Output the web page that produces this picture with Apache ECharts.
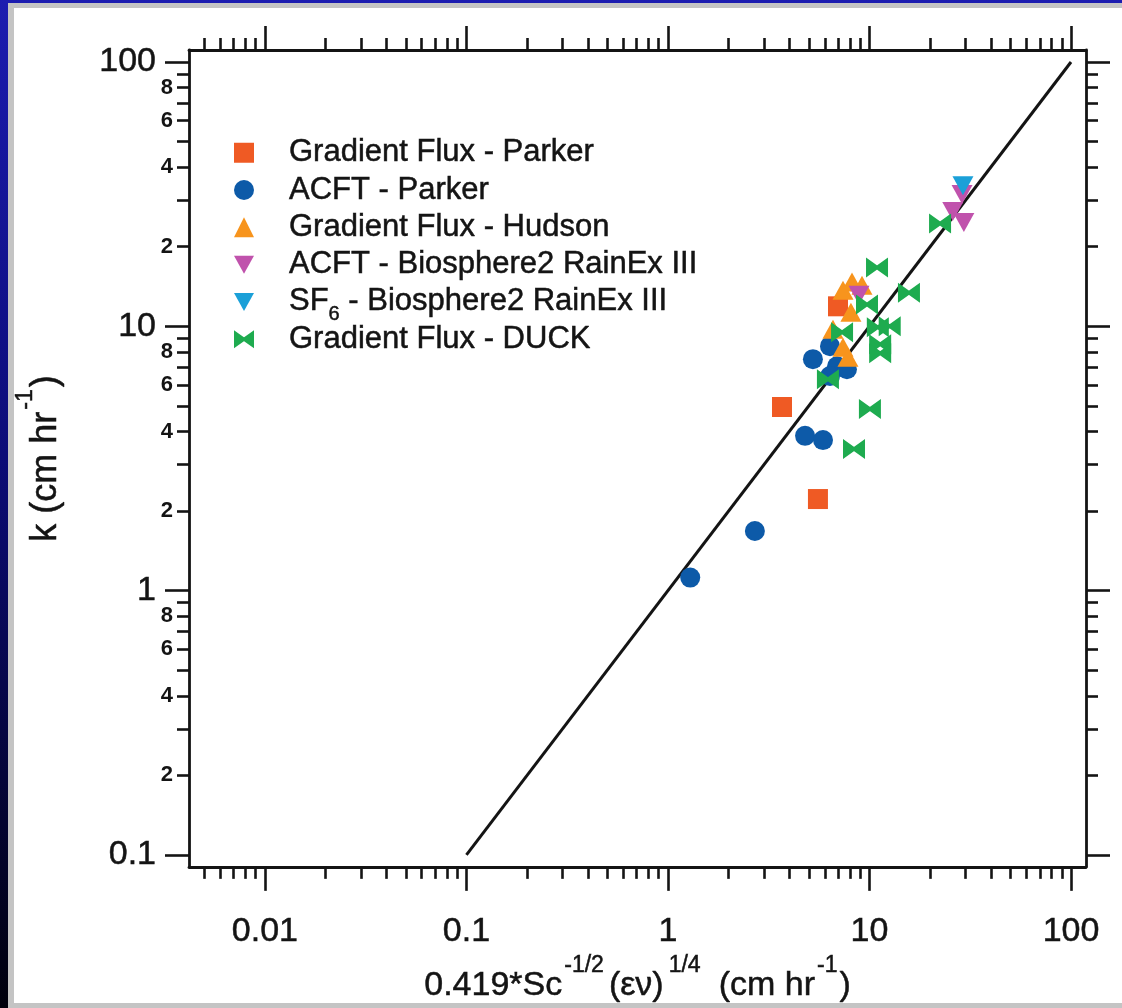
<!DOCTYPE html>
<html>
<head>
<meta charset="utf-8">
<script src="https://cdn.jsdelivr.net/npm/echarts@6/dist/echarts.min.js"></script>
<style>
  html, body { margin: 0; padding: 0; width: 1122px; height: 1008px; overflow: hidden; }
  body { position: relative; background: linear-gradient(180deg, #1c1cb0 0%, #0c0c78 45%, #00000c 100%); }
  #frame { position: absolute; left: 8px; top: 3px; right: 0; bottom: 0; background: #c4c4c4; }
  #paper { position: absolute; left: 14px; top: 8px; right: 0; bottom: 5px; background: #ffffff; }
  #chart { position: absolute; left: 0; top: 0; width: 1122px; height: 1008px; }
</style>
</head>
<body>
<div id="frame"></div>
<div id="paper"></div>
<div id="chart"></div>
<script>
// Series names, in legend order
const seriesNames = [
  'Gradient Flux - Parker',
  'ACFT - Parker',
  'Gradient Flux - Hudson',
  'ACFT - Biosphere2 RainEx III',
  'SF6 - Biosphere2 RainEx III',
  'Gradient Flux - DUCK'
];

// [predicted k, measured k] in cm/hr
const gradFluxParker = [[6.98, 11.9], [3.68, 4.95], [5.55, 2.22]];
const acftParker = [[1.29, 1.12], [2.70, 1.68], [4.79, 3.85], [5.88, 3.71], [5.24, 7.51],
                    [6.37, 8.41], [6.90, 7.06], [7.73, 6.88], [6.37, 6.48]];
const gradFluxHudson = [[8.19, 14.7], [9.18, 14.3], [7.39, 13.7], [8.09, 11.3], [6.59, 9.75],
                        [7.39, 8.33], [7.82, 7.64]];
const acftBiosphere = [[8.87, 13.1], [25.9, 27.2], [29.4, 24.7], [28.8, 31.5]];
const sf6Biosphere = [[29.1, 34.0]];
const gradFluxDuck = [[10.9, 16.7], [15.7, 13.4], [9.72, 12.1], [7.31, 9.49], [11.0, 9.92],
                      [12.6, 10.0], [11.3, 8.55], [11.3, 7.91], [6.22, 6.31], [10.05, 4.86],
                      [8.38, 3.43], [22.4, 24.5]];
// 1:1 line
const oneToOne = [[0.1, 0.1], [100, 100]];

// Axis ranges and tick positions
const xRange = [0.0042, 118.7];
const yRange = [0.0901, 111];
const xMajorTicks = [0.01, 0.1, 1, 10, 100];
const xMinorTicks = [0.005, 0.006, 0.007, 0.008, 0.009,
                     0.02, 0.03, 0.04, 0.05, 0.06, 0.07, 0.08, 0.09,
                     0.2, 0.3, 0.4, 0.5, 0.6, 0.7, 0.8, 0.9,
                     2, 3, 4, 5, 6, 7, 8, 9,
                     20, 30, 40, 50, 60, 70, 80, 90];
const yMajorTicks = [0.1, 1, 10, 100];
const yMinorTicks = [0.2, 0.3, 0.4, 0.5, 0.6, 0.7, 0.8, 0.9,
                     2, 3, 4, 5, 6, 7, 8, 9,
                     20, 30, 40, 50, 60, 70, 80, 90];
const yMinorLabels = [0.2, 0.4, 0.6, 0.8, 2, 4, 6, 8, 20, 40, 60, 80];

const FONT = 'Liberation Sans, Arial, Helvetica, sans-serif';
const INK = '#141414';

const colors = {
  square: '#ef5a24',
  circle: '#0d5aa8',
  triUp: '#f7941d',
  magenta: '#c052ac',
  cyan: '#1ba0d8',
  green: '#1eab4f'
};

const downTri = 'path://M0,0L20,0L10,18Z';
// two inward-pointing triangles, both wound the same way so the overlap stays filled
const bowtie = 'path://M0,0L14,10L0,20Z M22,0L22,20L8,10Z';

function majorFmt(v) {
  return v >= 1 ? String(Math.round(v)) : String(+Number(v).toPrecision(1));
}
function leadDigit(v) {
  const p = Math.pow(10, Math.floor(Math.log10(v) + 1e-9));
  return String(Math.round(v / p));
}

function logAxis(extra, range) {
  return Object.assign({
    type: 'log', logBase: 10, min: range[0], max: range[1],
    splitLine: { show: false }, minorTick: { show: false }, minorSplitLine: { show: false },
    axisLine: { show: false, onZero: false, lineStyle: { color: INK, width: 2.6 } },
    axisTick: { show: false },
    axisLabel: { show: false },
    axisPointer: { show: false }
  }, extra);
}

function ticks(values, len) {
  return { show: true, inside: false, length: len, customValues: values,
           lineStyle: { color: INK, width: 2.6 } };
}
const frameLine = { show: true, onZero: false, lineStyle: { color: INK, width: 2.8 } };

const xTitle = '{m|0.419*Sc}{s|-1/2}{g|(εν)}{s|1/4}{p|(cm hr}{s|-1}{m|)}';
const yTitle = '{m|k (cm hr}{s|-1}{m|)}';
const stroke = { textBorderColor: INK, textBorderWidth: 0.5 };
const titleRich = {
  m: Object.assign({ fontSize: 34, fontFamily: FONT, color: INK, lineHeight: 42 }, stroke),
  g: Object.assign({ fontSize: 34, fontFamily: FONT, color: INK, lineHeight: 42, padding: [0, 3, 0, 3] }, stroke),
  p: Object.assign({ fontSize: 34, fontFamily: FONT, color: INK, lineHeight: 42, padding: [0, 0, 0, 16] }, stroke),
  s: Object.assign({ fontSize: 23, fontFamily: FONT, color: INK, verticalAlign: 'top', height: 2, padding: [0, 2, 0, 2] }, stroke)
};
const yTitleRich = {
  m: Object.assign({ fontSize: 36, fontFamily: FONT, color: INK, lineHeight: 42 }, stroke),
  s: Object.assign({ fontSize: 23, fontFamily: FONT, color: INK, verticalAlign: 'top', height: 2, padding: [0, 2, 0, 2] }, stroke)
};

const xAxes = [
  logAxis({
    position: 'bottom',
    axisLine: frameLine,
    axisTick: ticks(xMajorTicks, 24),
    axisLabel: Object.assign({ show: true, customValues: xMajorTicks, formatter: majorFmt, margin: 48,
                 fontSize: 34, fontFamily: FONT, color: INK }, stroke),
    name: xTitle, nameLocation: 'middle', nameGap: 76,
    nameTextStyle: { rich: titleRich }
  }, xRange),
  logAxis({ position: 'bottom', axisTick: ticks(xMinorTicks, 12) }, xRange),
  logAxis({ position: 'top', axisLine: frameLine, axisTick: ticks(xMajorTicks, 24) }, xRange),
  logAxis({ position: 'top', axisTick: ticks(xMinorTicks, 12) }, xRange)
];

const yAxes = [
  logAxis({
    position: 'left',
    axisLine: frameLine,
    axisTick: ticks(yMajorTicks, 24),
    axisLabel: Object.assign({ show: true, customValues: yMajorTicks, formatter: majorFmt, margin: 33,
                 fontSize: 34, fontFamily: FONT, color: INK }, stroke),
    name: yTitle, nameLocation: 'middle', nameGap: 122, nameRotate: 90,
    nameTextStyle: { rich: yTitleRich }
  }, yRange),
  logAxis({
    position: 'left',
    axisTick: ticks(yMinorTicks, 12),
    axisLabel: { show: true, customValues: yMinorLabels, formatter: leadDigit, margin: 16,
                 fontSize: 22, fontWeight: 'bold', fontFamily: FONT, color: INK }
  }, yRange),
  logAxis({ position: 'right', axisLine: frameLine, axisTick: ticks(yMajorTicks, 24) }, yRange),
  logAxis({ position: 'right', axisTick: ticks(yMinorTicks, 12) }, yRange)
];

function scatter(name, data, symbol, size, color) {
  return {
    name: name, type: 'scatter', data: data, symbol: symbol, symbolSize: size,
    xAxisIndex: 0, yAxisIndex: 0,
    itemStyle: { color: color, opacity: 1 },
    emphasis: { disabled: true }
  };
}

// Legend: one row per series
const legendIcons = ['rect', 'circle', 'triangle', downTri, downTri, bowtie];
const legendLabels = {
  'Gradient Flux - Parker': '{f|Gradient Flux - Parker}',
  'ACFT - Parker': '{f|ACFT - Parker}',
  'Gradient Flux - Hudson': '{f|Gradient Flux - Hudson}',
  'ACFT - Biosphere2 RainEx III': '{f|ACFT - Biosphere2 RainEx III}',
  'SF6 - Biosphere2 RainEx III': '{f|SF}{sub|6}{t| - Biosphere2 RainEx III}',
  'Gradient Flux - DUCK': '{f|Gradient Flux - DUCK}'
};
const legendRowCenters = [152.5, 189.8, 227.1, 264.4, 301.7, 339];
const legendText = {
  fontSize: 31, fontFamily: FONT, color: INK,
  rich: {
    f: Object.assign({ fontSize: 31, fontFamily: FONT, color: INK, padding: [0, 0, 0, 30] }, stroke),
    t: Object.assign({ fontSize: 31, fontFamily: FONT, color: INK }, stroke),
    sub: Object.assign({ fontSize: 20, fontFamily: FONT, color: INK, verticalAlign: 'bottom', height: 6 }, stroke)
  }
};
const legends = seriesNames.map(function (name, i) {
  return {
    orient: 'vertical', left: 234, top: legendRowCenters[i] - 15.5, padding: 0,
    itemWidth: 20, itemHeight: 20, selectedMode: false,
    data: [{ name: name, icon: legendIcons[i] }],
    formatter: function (n) { return legendLabels[n]; },
    textStyle: legendText
  };
});

const chart = echarts.init(document.getElementById('chart'), null, { renderer: 'canvas' });
chart.setOption({
  backgroundColor: 'transparent',
  animation: false,
  grid: { left: 189, right: 36, top: 50, bottom: 139, containLabel: false },
  xAxis: xAxes,
  yAxis: yAxes,
  legend: legends,
  series: [
    {
      name: '1:1', type: 'line', data: oneToOne, xAxisIndex: 0, yAxisIndex: 0,
      showSymbol: false, symbol: 'none', silent: true,
      lineStyle: { color: INK, width: 3 }, z: 1
    },
    scatter(seriesNames[0], gradFluxParker, 'rect', 20, colors.square),
    scatter(seriesNames[1], acftParker, 'circle', 20, colors.circle),
    scatter(seriesNames[2], gradFluxHudson, 'triangle', [21, 19], colors.triUp),
    scatter(seriesNames[3], acftBiosphere, downTri, [21, 19], colors.magenta),
    scatter(seriesNames[4], sf6Biosphere, downTri, [21, 19], colors.cyan),
    scatter(seriesNames[5], gradFluxDuck, bowtie, [22, 20], colors.green)
  ]
});
</script>
</body>
</html>
